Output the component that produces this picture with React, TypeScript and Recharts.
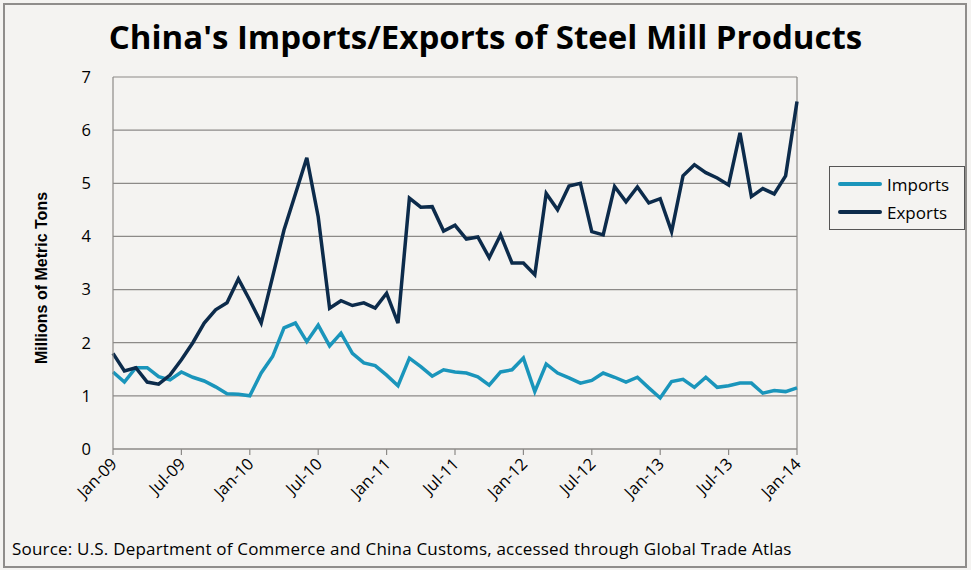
import { CartesianGrid, Line, LineChart, ReferenceLine, XAxis, YAxis } from 'recharts';

const MONTHS = ['Jan', 'Feb', 'Mar', 'Apr', 'May', 'Jun', 'Jul', 'Aug', 'Sep', 'Oct', 'Nov', 'Dec'];
const YEARS = ['09', '10', '11', '12', '13', '14'];

const importsData = [
  1.45, 1.26, 1.53, 1.53, 1.36, 1.3, 1.45, 1.35, 1.28, 1.17, 1.04, 1.03,
  1.0, 1.43, 1.74, 2.28, 2.37, 2.02, 2.33, 1.94, 2.18, 1.8, 1.62, 1.57,
  1.39, 1.19, 1.71, 1.55, 1.37, 1.49, 1.45, 1.43, 1.36, 1.2, 1.45, 1.49,
  1.71, 1.08, 1.6, 1.43, 1.34, 1.24, 1.29, 1.43, 1.35, 1.26, 1.35, 1.15,
  0.96, 1.27, 1.31, 1.16, 1.35, 1.16, 1.19, 1.24, 1.24, 1.05, 1.1, 1.08,
  1.15,
];

const exportsData = [
  1.8, 1.47, 1.53, 1.26, 1.22, 1.39, 1.68, 2.0, 2.37, 2.62, 2.75, 3.2,
  2.8, 2.37, 3.24, 4.12, 4.8, 5.48, 4.37, 2.65, 2.79, 2.7, 2.75, 2.65,
  2.93, 2.37, 4.72, 4.55, 4.56, 4.1, 4.21, 3.95, 3.99, 3.6, 4.03, 3.5,
  3.5, 3.28, 4.81, 4.5, 4.95, 5.0, 4.09, 4.03, 4.94, 4.65, 4.93, 4.63,
  4.71, 4.09, 5.14, 5.35, 5.2, 5.1, 4.97, 5.95, 4.75, 4.9, 4.8, 5.14,
  6.54,
];

const yTicks = [0, 1, 2, 3, 4, 5, 6, 7];

const categories = importsData.map((_, i) => `${MONTHS[i % 12]}-${YEARS[Math.floor(i / 12)]}`);

const data = categories.map((month, i) => ({
  month,
  Imports: importsData[i],
  Exports: exportsData[i],
}));

const IMPORT_COLOR = '#1a95bb';
const EXPORT_COLOR = '#0c2b4b';
const GRID = '#8c8a88';
const FONT = "'Open Sans', Lato, sans-serif";

function XTick({ x, y, payload }: { x?: number; y?: number; payload?: { value: string } }) {
  const tx = (x ?? 0) + 5;
  const ty = (y ?? 0) + 8;
  return (
    <text
      x={tx}
      y={ty}
      textAnchor="end"
      fontSize={16.5}
      fontFamily={FONT}
      fill="#000"
      transform={`rotate(-45, ${tx}, ${ty})`}
    >
      {payload?.value}
    </text>
  );
}

function LegendBox() {
  const items = [
    { name: 'Imports', color: IMPORT_COLOR },
    { name: 'Exports', color: EXPORT_COLOR },
  ];
  return (
    <div style={{ position: 'absolute', left: 829, top: 166, border: '1px solid #555', width: 136, height: 64, boxSizing: 'border-box', padding: '3px 0 0 8px' }}>
      {items.map((it) => (
        <div key={it.name} style={{ display: 'flex', alignItems: 'center', height: 28 }}>
          <div style={{ width: 44, height: 4, background: it.color, borderRadius: 2 }} />
          <span style={{ fontFamily: FONT, fontSize: 17, marginLeft: 5, color: '#000' }}>{it.name}</span>
        </div>
      ))}
    </div>
  );
}

export default function App() {
  return (
    <div style={{ position: 'absolute', left: 0, top: 0, width: 971, height: 570, background: '#f4f3f1' }}>
      <div style={{ position: 'absolute', left: 3, top: 3, width: 960, height: 561, border: '2px solid #8f8d8b' }} />
      <div style={{ position: 'absolute', left: 0, top: 14, width: 971, textAlign: 'center', fontFamily: FONT, fontWeight: 700, fontSize: 33, color: '#000' }}>
        China's Imports/Exports of Steel Mill Products
      </div>
      <div
        style={{
          position: 'absolute', left: 42, top: 278, transform: 'translate(-50%, -50%) rotate(-90deg)',
          whiteSpace: 'nowrap', fontFamily: "'Liberation Sans Narrow', 'Arial Narrow', sans-serif", fontWeight: 700, fontSize: 16, color: '#000',
        }}
      >
        Millions of Metric Tons
      </div>
      <div style={{ position: 'absolute', left: 12, top: 537, fontFamily: FONT, fontSize: 17, letterSpacing: 0.2, color: '#000', whiteSpace: 'nowrap' }}>
        Source: U.S. Department of Commerce and China Customs, accessed through Global Trade Atlas
      </div>
      <LegendBox />
      <LineChart width={971} height={570} data={data} margin={{ top: 77, right: 174, bottom: 61, left: 53 }} style={{ position: 'absolute', left: 0, top: 0 }}>
        <CartesianGrid vertical={false} stroke={GRID} strokeWidth={1.2} />
        <XAxis
          dataKey="month"
          interval={5}
          height={60}
          axisLine={{ stroke: GRID, strokeWidth: 1.2 }}
          tickLine={{ stroke: GRID, strokeWidth: 1.2 }}
          tickSize={6}
          tick={<XTick />}
        />
        <YAxis
          domain={[0, 7]}
          ticks={yTicks}
          width={60}
          axisLine={{ stroke: GRID, strokeWidth: 1.2 }}
          tickLine={false}
          tick={{ fontSize: 16.5, fill: '#000', fontFamily: FONT }}
          tickMargin={16}
        />
        <ReferenceLine x="Jan-14" stroke={GRID} strokeWidth={1.2} />
        <Line type="linear" dataKey="Imports" stroke={IMPORT_COLOR} strokeWidth={3.5} dot={false} isAnimationActive={false} />
        <Line type="linear" dataKey="Exports" stroke={EXPORT_COLOR} strokeWidth={3.5} dot={false} isAnimationActive={false} />
      </LineChart>
    </div>
  );
}
